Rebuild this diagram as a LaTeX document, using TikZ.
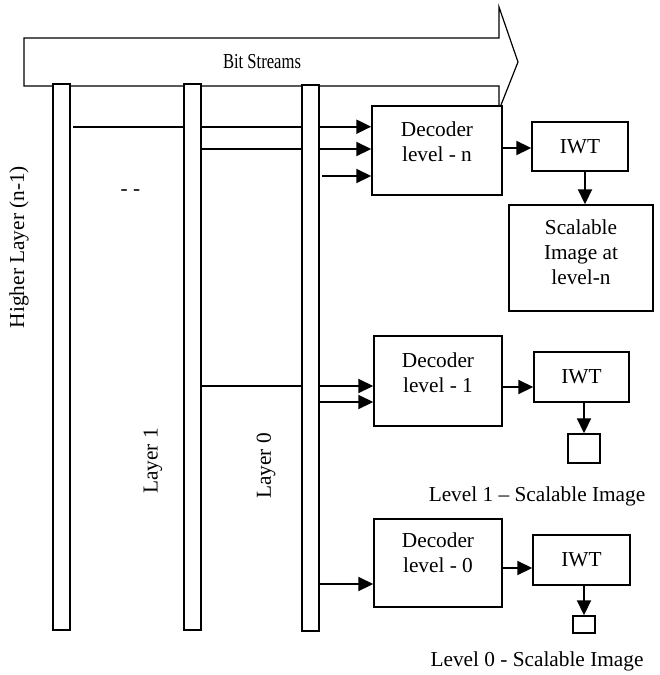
\documentclass[tikz,border=0pt]{standalone}
\usepackage{fontspec}
\setmainfont{Liberation Serif}
\usetikzlibrary{arrows.meta}
\begin{document}
\begin{tikzpicture}[x=1pt,y=-1pt,
  every node/.style={font=\fontsize{21.3}{25}\selectfont},
  box/.style={draw, line width=1.5pt, inner sep=0pt, fill=white},
  bar/.style={draw, line width=1.5pt, inner sep=0pt, fill=white, minimum width=17pt},
  conn/.style={line width=2.2pt},
  arr/.style={line width=2.2pt, -{Triangle[length=15pt,width=14pt]}},
  lbl/.style={align=center, inner sep=0pt}]
\useasboundingbox (0,0) rectangle (659,675);
% big arrow
\draw[line width=1.2pt, fill=white] (24,38) -- (499,38) -- (499,7) -- (518,62) -- (499,110) -- (499,86) -- (24,86) -- cycle;
\node[inner sep=0pt] (bits) at (262,62) {\scalebox{0.78}[1]{Bit Streams}};
% bars
\node[bar, minimum height=546pt] (b1) at (61.5,357) {};
\node[bar, minimum height=546pt] (b2) at (192.5,357) {};
\node[bar, minimum height=546pt] (b3) at (310.5,358) {};
% layer labels
\node[rotate=90, inner sep=0pt] (hl) at (19,247) {Higher Layer (n-1)};
\node[rotate=90, inner sep=0pt] (l1) at (153,461) {Layer 1};
\node[rotate=90, inner sep=0pt] (l0) at (266,466) {Layer 0};
\node[inner sep=0pt] (dots) at (130.5,193) {- -};
% level n
\node[box, minimum width=130pt, minimum height=89pt] (dn) at (437,150.5) {};
\node[lbl] (dnt) at (437,142) {Decoder\\level - n};
\node[box, minimum width=96pt, minimum height=49pt] (iwtn) at (580,146.5) {IWT};
\node[box, minimum width=144pt, minimum height=106pt] (scal) at (581,258) {};
\node[lbl] (scalt) at (581,252) {Scalable\\Image at\\level-n};
% level 1
\node[box, minimum width=128pt, minimum height=90pt] (d1) at (438,381) {};
\node[lbl] (d1t) at (438,373) {Decoder\\level - 1};
\node[box, minimum width=95pt, minimum height=50pt] (iwt1) at (581.5,377) {IWT};
\node[box, minimum width=32pt, minimum height=29pt] (sb1) at (584,448.5) {};
\node[inner sep=0pt] (lv1) at (537,496) {Level 1 -- Scalable Image};
% level 0
\node[box, minimum width=128pt, minimum height=88pt] (d0) at (438,563) {};
\node[lbl] (d0t) at (438,553) {Decoder\\level - 0};
\node[box, minimum width=97pt, minimum height=50pt] (iwt0) at (581.5,560) {IWT};
\node[box, minimum width=22pt, minimum height=17pt] (sb0) at (584,624.5) {};
\node[inner sep=0pt] (lv0) at (537,661) {Level 0 - Scalable Image};
% connectors to decoder n
\coordinate (s1) at (73,126.7);
\draw[conn] (s1) -- (b2.west |- s1);
\draw[conn] (b2.east |- s1) -- (b3.west |- s1);
\draw[arr] (b3.east |- s1) -- (dn.west |- s1);
\coordinate (s2) at (0,149);
\draw[conn] (b2.east |- s2) -- (b3.west |- s2);
\draw[arr] (b3.east |- s2) -- (dn.west |- s2);
\coordinate (s3) at (322,176);
\draw[arr] (s3) -- (dn.west |- s3);
% connectors to decoder 1
\coordinate (s4) at (0,386);
\draw[conn] (b2.east |- s4) -- (b3.west |- s4);
\draw[arr] (b3.east |- s4) -- (d1.west |- s4);
\coordinate (s5) at (0,402);
\draw[arr] (b3.east |- s5) -- (d1.west |- s5);
% connector to decoder 0
\coordinate (s6) at (0,584);
\draw[arr] (b3.east |- s6) -- (d0.west |- s6);
% decoder -> IWT
\coordinate (h1) at (0,148);
\draw[arr] (dn.east |- h1) -- (iwtn.west |- h1);
\coordinate (h2) at (0,387);
\draw[arr] (d1.east |- h2) -- (iwt1.west |- h2);
\coordinate (h3) at (0,568);
\draw[arr] (d0.east |- h3) -- (iwt0.west |- h3);
% IWT -> outputs
\coordinate (v1) at (585,0);
\draw[arr] (iwtn.south -| v1) -- (scal.north -| v1);
\draw[arr] (iwt1.south -| sb1.north) -- (sb1.north);
\draw[arr] (iwt0.south -| sb0.north) -- (sb0.north);
\end{tikzpicture}
\end{document}
